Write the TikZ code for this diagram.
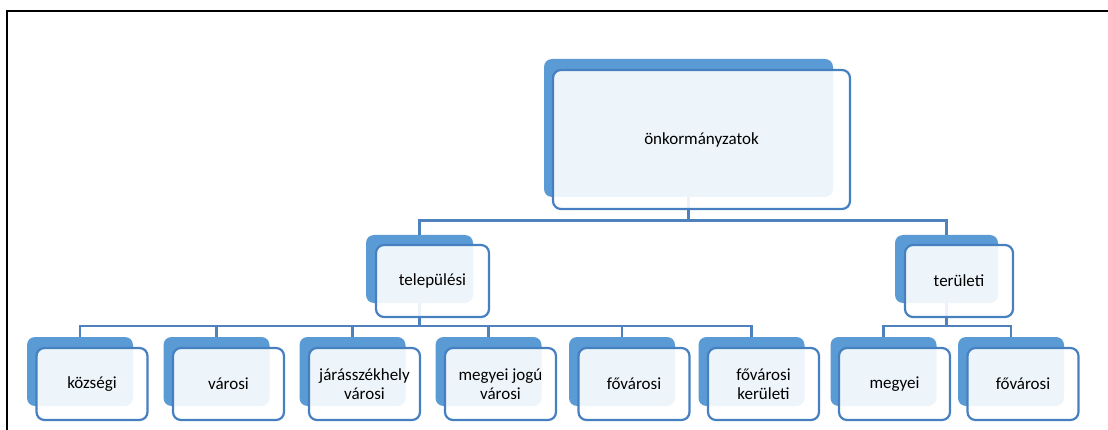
\documentclass[tikz,border=0pt]{standalone}
\usepackage{fontspec}
\setmainfont{Carlito}
\definecolor{backblue}{RGB}{91,155,213}
\definecolor{edgeblue}{RGB}{70,128,192}
\definecolor{linkblue}{RGB}{79,129,189}
\begin{document}
\begin{tikzpicture}[x=1pt,y=-1pt,
  back/.style={fill=backblue,rounded corners=8pt,inner sep=0pt,minimum width=106pt,minimum height=69pt},
  front/.style={draw=edgeblue,line width=2.2pt,fill=white,fill opacity=0.9,text opacity=1,
    rounded corners=8pt,inner sep=0pt,minimum width=111pt,minimum height=72pt,
    align=center,font=\fontsize{17}{19}\selectfont},
  conn/.style={draw=linkblue,line width=2.4pt},
  frame/.style={draw=black,line width=2.6pt}]
\useasboundingbox (0,0) rectangle (1108,430);
\draw[frame] (7,431) -- (7,11) -- (1109,11);
% back shapes
\node[back,minimum width=289pt,minimum height=138pt] (rootb) at (688.5,128) {};
\node[back,minimum width=107pt,minimum height=68pt] (telb) at (419.5,269) {};
\node[back,minimum width=103pt,minimum height=68pt] (terb) at (946.5,269) {};
\node[back] (k1b) at (80,371.5) {};
\node[back] (k2b) at (216.5,371.5) {};
\node[back] (k3b) at (352.5,371.5) {};
\node[back] (k4b) at (488.5,371.5) {};
\node[back] (k5b) at (622,371.5) {};
\node[back] (k6b) at (751.5,371.5) {};
\node[back] (t1b) at (883.5,371.5) {};
\node[back] (t2b) at (1011,371.5) {};
% connectors
\draw[conn] (rootb.south) -- ++(0,23.5) -| (telb.north);
\draw[conn] (rootb.south) -- ++(0,23.5) -| (terb.north);
\foreach \c in {k1b,k2b,k3b,k4b,k5b,k6b}
  \draw[conn] (telb.south) -- ++(0,23) -| (\c.north);
\foreach \c in {t1b,t2b}
  \draw[conn] (terb.south) -- ++(0,23) -| (\c.north);
% front shapes
\node[front,minimum width=297pt,minimum height=139pt] (root) at (701.5,139.5) {önkormányzatok};
\node[front,minimum width=113pt,minimum height=72pt] (tel) at (432.5,281) {települési};
\node[front,minimum width=108pt,minimum height=72pt] (ter) at (959,281) {területi};
\node[front] (k1) at ([shift={(12,12.5)}]k1b.center) {községi};
\node[front] (k2) at ([shift={(12,12.5)}]k2b.center) {városi};
\node[front] (k3) at ([shift={(12,12.5)}]k3b.center) {járásszékhely\\városi};
\node[front] (k4) at ([shift={(12,12.5)}]k4b.center) {megyei jogú\\városi};
\node[front] (k5) at ([shift={(12,12.5)}]k5b.center) {fővárosi};
\node[front] (k6) at ([shift={(12,12.5)}]k6b.center) {fővárosi\\kerületi};
\node[front] (t1) at ([shift={(11,12.5)}]t1b.center) {megyei};
\node[front] (t2) at ([shift={(12,12.5)}]t2b.center) {fővárosi};
\end{tikzpicture}
\end{document}
